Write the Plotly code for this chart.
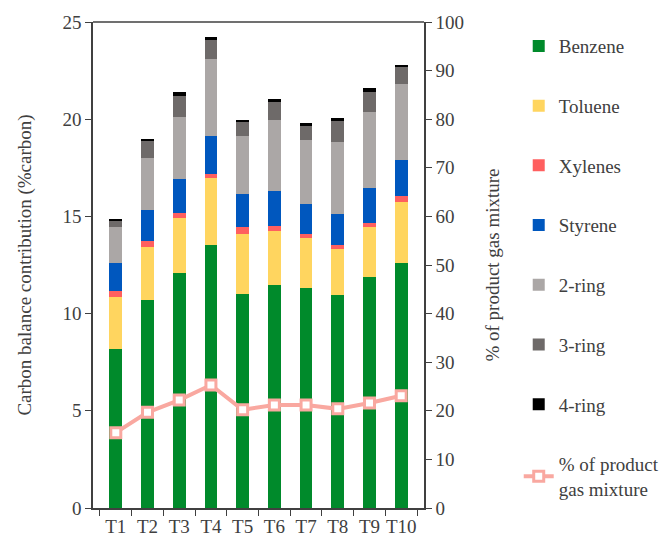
import plotly.graph_objects as go

categories = ["T1", "T2", "T3", "T4", "T5", "T6", "T7", "T8", "T9", "T10"]
benzene = [8.19, 10.72, 12.10, 13.52, 10.99, 11.45, 11.33, 10.96, 11.88, 12.60]
toluene = [2.67, 2.72, 2.84, 3.45, 3.13, 2.81, 2.58, 2.34, 2.55, 3.14]
xylenes = [0.31, 0.27, 0.24, 0.19, 0.31, 0.25, 0.19, 0.22, 0.25, 0.31]
styrene = [1.42, 1.61, 1.76, 2.00, 1.71, 1.80, 1.52, 1.61, 1.76, 1.85]
ring2 = [1.86, 2.70, 3.18, 3.95, 3.02, 3.65, 3.32, 3.69, 3.95, 3.91]
ring3 = [0.36, 0.89, 1.08, 0.96, 0.70, 0.93, 0.73, 1.08, 1.01, 0.87]
ring4 = [0.05, 0.07, 0.18, 0.17, 0.12, 0.14, 0.12, 0.14, 0.20, 0.12]
gas_pct = [15.5, 19.7, 22.2, 25.3, 20.2, 21.2, 21.2, 20.4, 21.6, 23.1]

series = [
    ("Benzene", benzene, "#008A2B"),
    ("Toluene", toluene, "#FFD55F"),
    ("Xylenes", xylenes, "#FF5F5F"),
    ("Styrene", styrene, "#0057BE"),
    ("2-ring", ring2, "#ABA7A6"),
    ("3-ring", ring3, "#6E6A69"),
    ("4-ring", ring4, "#000000"),
]

FONT = "Liberation Serif"
TXT = "#404040"
FS = 19

fig = go.Figure()
for i, (name, vals, col) in enumerate(series):
    fig.add_trace(go.Bar(
        x=categories, y=vals, name=name, marker_color=col,
        marker_line_width=0, legendgroup=f"g{i}", yaxis="y",
    ))

fig.add_trace(go.Scatter(
    x=categories, y=gas_pct, name="% of product<br>gas mixture", yaxis="y2",
    mode="lines+markers", legendgroup="g8",
    line=dict(color="#F9A8A0", width=4),
    marker=dict(symbol="square", size=10, color="white",
                line=dict(color="#F9A8A0", width=3)),
))

fig.update_layout(
    width=659, height=530,
    margin=dict(l=85, r=243, t=14, b=30),
    paper_bgcolor="white", plot_bgcolor="white",
    barmode="stack", bargap=0.6,
    font=dict(family=FONT, size=FS, color=TXT),
    showlegend=True,
    legend=dict(
        xref="container", yref="container",
        x=0.775, y=0.964, xanchor="left", yanchor="top",
        traceorder="grouped", tracegroupgap=32, maxheight=520,
        font=dict(family=FONT, size=FS, color=TXT),
        itemwidth=30, bgcolor="rgba(0,0,0,0)",
    ),
    xaxis=dict(
        showline=True, linecolor="#404040", linewidth=1.5,
        ticks="outside", tickson="boundaries", ticklen=6,
        tickcolor="#404040", tickfont=dict(family=FONT, size=FS, color=TXT),
        tickangle=0, automargin=False,
    ),
    yaxis=dict(
        range=[0, 25], dtick=5, showgrid=False, zeroline=False,
        showline=True, linecolor="#404040", linewidth=1.5,
        ticks="outside", ticklen=6, tickcolor="#404040",
        tickfont=dict(family=FONT, size=FS, color=TXT), automargin=False,
        title=dict(text="Carbon balance contribution (%carbon)",
                   font=dict(family=FONT, size=FS, color=TXT), standoff=26),
    ),
    yaxis2=dict(
        range=[0, 100], dtick=10, overlaying="y", side="right",
        showgrid=False, zeroline=False,
        showline=True, linecolor="#404040", linewidth=1.5,
        ticks="outside", ticklen=6, tickcolor="#404040",
        tickfont=dict(family=FONT, size=FS, color=TXT), automargin=False,
        title=dict(text="% of product gas mixture",
                   font=dict(family=FONT, size=FS, color=TXT), standoff=23),
    ),
    shapes=[dict(type="line", xref="paper", yref="paper", x0=0, x1=1,
                 y0=1, y1=1, line=dict(color="#404040", width=1.5))],
)

fig.write_html("out.html")
